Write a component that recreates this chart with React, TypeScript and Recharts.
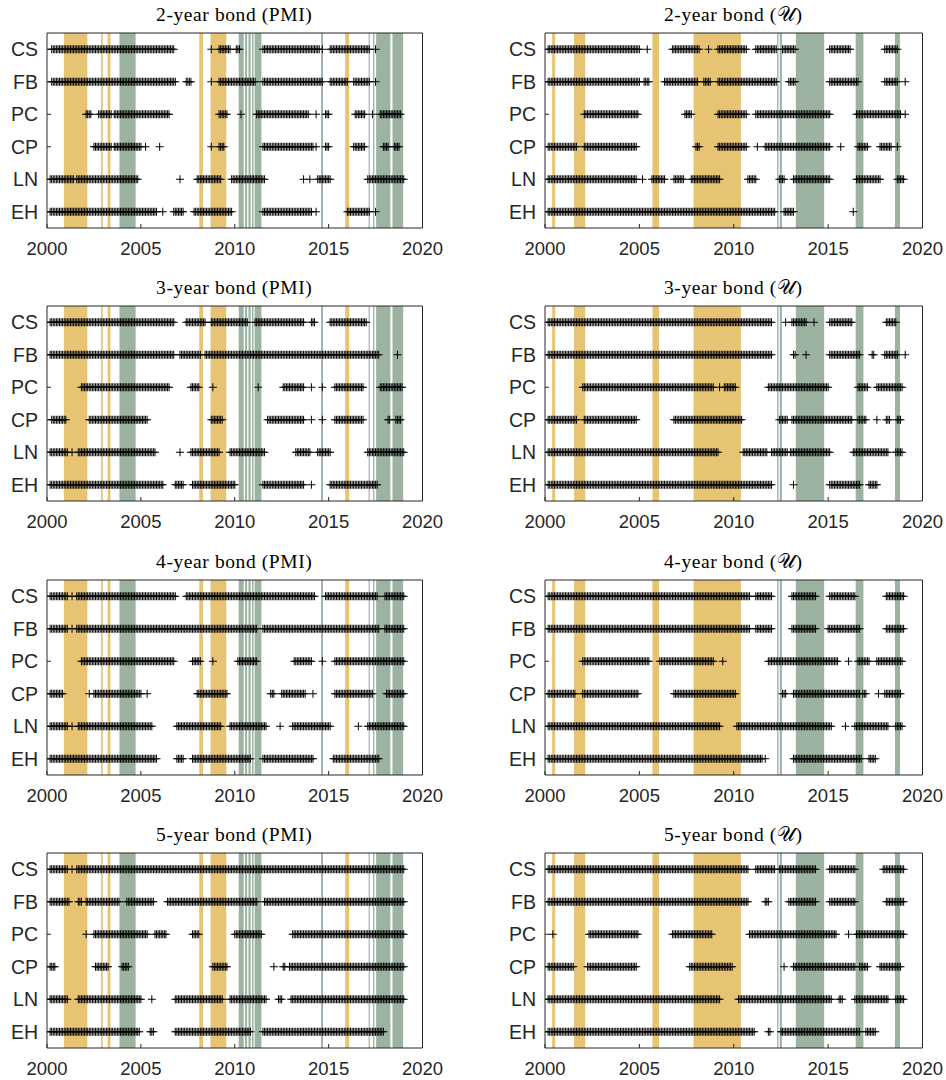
import React from 'react';
import { ScatterChart, Scatter, XAxis, YAxis, ReferenceArea } from 'recharts';

// row labels, top to bottom
const models = ['CS', 'FB', 'PC', 'CP', 'LN', 'EH'];
const xTicks = [2000, 2005, 2010, 2015, 2020];

// shaded periods: [from, to, kind]  (y = yellow, g = green)
const pmiBands = [
  [2000.9, 2002.15, 'y'], [2002.88, 2002.97, 'y'], [2003.23, 2003.38, 'y'], [2003.86, 2004.72, 'g'],
  [2008.11, 2008.31, 'y'], [2008.71, 2009.55, 'y'],
  [2010.21, 2010.48, 'g'], [2010.55, 2010.66, 'g'], [2010.73, 2010.85, 'g'], [2010.92, 2011.0, 'g'], [2011.06, 2011.42, 'g'],
  [2014.6, 2014.7, 'g'], [2015.88, 2016.1, 'y'],
  [2017.13, 2017.19, 'g'], [2017.37, 2017.44, 'g'], [2017.53, 2018.29, 'g'], [2018.4, 2018.97, 'g'],
];
const uBands = [
  [2000.38, 2000.54, 'y'], [2001.54, 2002.13, 'y'], [2005.69, 2006.04, 'y'], [2007.87, 2010.38, 'y'],
  [2012.3, 2012.37, 'g'], [2012.44, 2012.55, 'g'], [2013.29, 2014.79, 'g'], [2016.46, 2016.87, 'g'], [2018.54, 2018.81, 'g'],
];

// months where a model is selected, as runs [first, last] (decimal years), rows CS..EH
const bond2Pmi = [
  [[2000.25, 2006.75], [2008.75, 2008.75], [2009.17, 2009.75], [2010.08, 2010.25], [2011.5, 2014.5], [2014.67, 2014.67], [2015.08, 2017.17], [2017.5, 2017.5]],
  [[2000.25, 2006.83], [2007.42, 2007.67], [2008.75, 2008.75], [2009.17, 2011.08], [2011.5, 2014.67], [2015.08, 2016.0], [2016.33, 2017.17], [2017.5, 2017.5]],
  [[2002.08, 2002.33], [2002.75, 2003.42], [2003.58, 2006.5], [2009.17, 2009.58], [2010.33, 2010.33], [2011.17, 2013.92], [2014.33, 2014.33], [2014.83, 2015.0], [2016.42, 2016.92], [2017.33, 2017.33], [2017.75, 2018.83]],
  [[2002.5, 2003.42], [2003.58, 2005.0], [2005.25, 2005.25], [2006.0, 2006.0], [2008.75, 2008.75], [2009.17, 2009.42], [2011.5, 2014.17], [2014.33, 2014.33], [2014.83, 2015.0], [2016.33, 2016.92], [2017.92, 2018.17], [2018.5, 2018.75]],
  [[2000.17, 2001.42], [2001.58, 2004.83], [2007.08, 2007.08], [2008.0, 2009.25], [2009.83, 2011.58], [2013.67, 2013.67], [2014.0, 2014.0], [2014.42, 2015.08], [2017.08, 2019.0]],
  [[2000.17, 2005.83], [2006.17, 2006.17], [2006.75, 2007.25], [2007.83, 2009.83], [2011.5, 2014.08], [2014.33, 2014.33], [2016.0, 2017.17], [2017.5, 2017.5]],
];
const bond2U = [
  [[2000.17, 2005.0], [2005.42, 2005.42], [2006.75, 2008.17], [2008.67, 2008.67], [2009.17, 2010.67], [2011.17, 2012.25], [2012.58, 2013.25], [2015.08, 2016.17], [2018.0, 2018.67]],
  [[2000.17, 2005.0], [2005.25, 2005.5], [2006.33, 2008.08], [2008.42, 2008.75], [2009.17, 2012.25], [2012.92, 2013.25], [2015.08, 2016.58], [2018.0, 2018.67], [2019.08, 2019.08]],
  [[2002.08, 2004.92], [2007.42, 2007.75], [2009.17, 2010.67], [2011.17, 2015.08], [2016.5, 2018.83], [2019.08, 2019.08]],
  [[2000.17, 2001.67], [2002.08, 2004.83], [2008.0, 2008.17], [2009.17, 2010.67], [2011.25, 2011.25], [2011.67, 2015.08], [2015.67, 2015.67], [2016.58, 2017.08], [2017.75, 2018.33], [2018.67, 2018.67]],
  [[2000.17, 2004.83], [2005.17, 2005.17], [2005.67, 2006.33], [2006.83, 2007.33], [2007.75, 2009.25], [2010.75, 2011.17], [2012.42, 2012.67], [2013.17, 2015.08], [2016.5, 2017.75], [2018.67, 2019.0]],
  [[2000.17, 2012.17], [2012.67, 2013.17], [2016.33, 2016.33]],
];
const bond3Pmi = [
  [[2000.17, 2006.75], [2007.42, 2008.42], [2008.75, 2010.67], [2011.08, 2013.67], [2014.08, 2014.25], [2015.08, 2017.0]],
  [[2000.17, 2006.75], [2007.08, 2008.17], [2008.42, 2014.75], [2014.83, 2017.67], [2018.67, 2018.67]],
  [[2001.83, 2006.5], [2007.67, 2008.08], [2008.83, 2008.83], [2011.25, 2011.25], [2012.58, 2013.67], [2014.08, 2014.08], [2014.67, 2014.67], [2015.33, 2016.83], [2017.75, 2018.92]],
  [[2000.25, 2001.0], [2002.25, 2005.33], [2008.75, 2009.33], [2011.75, 2013.67], [2014.08, 2014.08], [2014.67, 2014.67], [2015.33, 2016.83], [2018.17, 2018.25], [2018.58, 2018.83]],
  [[2000.17, 2001.08], [2001.33, 2001.33], [2001.67, 2005.75], [2007.08, 2007.08], [2007.67, 2009.17], [2009.75, 2011.58], [2013.25, 2014.0], [2014.42, 2015.08], [2017.08, 2019.0]],
  [[2000.17, 2006.17], [2006.83, 2007.25], [2007.75, 2010.0], [2011.5, 2013.67], [2014.08, 2014.08], [2015.08, 2017.58]],
];
const bond3U = [
  [[2000.17, 2012.0], [2012.75, 2012.75], [2013.08, 2013.83], [2014.25, 2014.25], [2015.08, 2016.25], [2018.08, 2018.58]],
  [[2000.17, 2012.0], [2013.17, 2013.25], [2013.83, 2013.83], [2015.08, 2016.67], [2017.33, 2017.42], [2018.0, 2018.67], [2019.08, 2019.08]],
  [[2002.0, 2008.92], [2009.25, 2009.25], [2009.5, 2010.08], [2011.83, 2015.0], [2016.58, 2017.08], [2017.58, 2018.92]],
  [[2000.17, 2001.67], [2002.08, 2004.83], [2006.83, 2010.42], [2012.42, 2012.83], [2013.08, 2016.25], [2016.58, 2017.0], [2017.58, 2017.58], [2018.08, 2018.25], [2018.67, 2018.83]],
  [[2000.17, 2009.17], [2010.5, 2011.75], [2012.0, 2012.83], [2013.0, 2015.08], [2016.33, 2018.17], [2018.58, 2018.92]],
  [[2000.17, 2012.0], [2013.17, 2013.17], [2015.08, 2016.67], [2017.17, 2017.58]],
];
const bond4Pmi = [
  [[2000.17, 2001.08], [2001.33, 2001.33], [2001.58, 2006.83], [2007.42, 2014.25], [2014.83, 2017.58], [2018.0, 2019.0]],
  [[2000.17, 2001.08], [2001.33, 2001.33], [2001.58, 2011.17], [2011.5, 2014.75], [2014.83, 2017.67], [2018.0, 2019.0]],
  [[2001.83, 2006.75], [2007.75, 2008.17], [2008.83, 2008.83], [2010.17, 2011.17], [2013.17, 2014.08], [2014.67, 2014.67], [2015.33, 2019.0]],
  [[2000.17, 2000.83], [2002.25, 2002.25], [2002.5, 2005.0], [2005.33, 2005.33], [2008.0, 2009.58], [2011.92, 2012.08], [2012.5, 2013.75], [2014.17, 2014.17], [2015.33, 2017.33], [2018.08, 2019.0]],
  [[2000.17, 2001.08], [2001.33, 2001.33], [2001.67, 2005.58], [2006.92, 2009.25], [2009.75, 2011.67], [2012.42, 2012.42], [2013.08, 2015.08], [2016.58, 2016.58], [2017.08, 2019.0]],
  [[2000.17, 2005.83], [2006.92, 2007.25], [2007.75, 2010.83], [2011.5, 2014.17], [2015.25, 2017.67]],
];
const bond4U = [
  [[2000.17, 2010.83], [2011.17, 2012.0], [2013.08, 2014.33], [2015.08, 2016.42], [2018.08, 2019.0]],
  [[2000.17, 2010.83], [2011.17, 2012.0], [2013.08, 2014.33], [2015.0, 2016.67], [2018.08, 2019.0]],
  [[2002.0, 2005.5], [2006.08, 2008.92], [2009.42, 2009.42], [2011.83, 2015.5], [2016.08, 2016.08], [2016.58, 2017.17], [2017.58, 2018.92]],
  [[2000.17, 2001.58], [2002.0, 2004.92], [2006.83, 2010.08], [2012.58, 2012.75], [2013.17, 2016.67], [2016.83, 2017.0], [2017.67, 2017.67], [2018.0, 2018.83]],
  [[2000.17, 2009.25], [2010.17, 2015.17], [2015.92, 2015.92], [2016.42, 2018.17], [2018.58, 2018.92]],
  [[2000.17, 2011.5], [2011.67, 2011.67], [2013.17, 2016.75], [2017.17, 2017.5]],
];
const bond5Pmi = [
  [[2000.17, 2001.08], [2001.33, 2001.33], [2001.58, 2019.0]],
  [[2000.17, 2001.17], [2001.67, 2001.83], [2002.08, 2003.83], [2004.25, 2005.67], [2006.42, 2011.17], [2011.58, 2019.0]],
  [[2002.08, 2002.08], [2002.5, 2005.33], [2005.75, 2006.33], [2007.75, 2008.08], [2010.0, 2011.42], [2013.08, 2019.0]],
  [[2000.17, 2000.42], [2002.58, 2003.25], [2004.0, 2004.33], [2008.83, 2009.58], [2012.08, 2012.08], [2012.58, 2012.67], [2012.92, 2019.0]],
  [[2000.17, 2001.08], [2001.67, 2005.0], [2005.58, 2005.58], [2006.83, 2009.33], [2009.75, 2011.67], [2012.33, 2012.5], [2013.0, 2019.0]],
  [[2000.17, 2004.92], [2005.5, 2005.67], [2006.83, 2010.83], [2011.5, 2017.92]],
];
const bond5U = [
  [[2000.17, 2010.75], [2011.17, 2012.17], [2012.42, 2014.33], [2015.08, 2016.42], [2017.92, 2019.0]],
  [[2000.17, 2010.75], [2011.67, 2011.83], [2012.92, 2014.33], [2015.08, 2016.42], [2018.08, 2019.0]],
  [[2000.42, 2000.42], [2002.33, 2004.92], [2006.75, 2008.83], [2010.83, 2015.42], [2016.08, 2016.08], [2016.5, 2019.0]],
  [[2000.17, 2001.5], [2002.25, 2004.83], [2007.67, 2009.92], [2012.67, 2012.67], [2013.17, 2016.42], [2016.67, 2017.08], [2017.75, 2018.83]],
  [[2000.17, 2009.25], [2010.25, 2015.17], [2015.58, 2015.75], [2016.42, 2018.17], [2018.58, 2019.0]],
  [[2000.17, 2011.08], [2011.83, 2011.92], [2012.5, 2016.67], [2017.0, 2017.5]],
];

const panels = [
  { title: '2-year bond (PMI)', rows: bond2Pmi, bands: pmiBands, col: 0, row: 0 },
  { title: '2-year bond (𝒰)', rows: bond2U, bands: uBands, col: 1, row: 0 },
  { title: '3-year bond (PMI)', rows: bond3Pmi, bands: pmiBands, col: 0, row: 1 },
  { title: '3-year bond (𝒰)', rows: bond3U, bands: uBands, col: 1, row: 1 },
  { title: '4-year bond (PMI)', rows: bond4Pmi, bands: pmiBands, col: 0, row: 2 },
  { title: '4-year bond (𝒰)', rows: bond4U, bands: uBands, col: 1, row: 2 },
  { title: '5-year bond (PMI)', rows: bond5Pmi, bands: pmiBands, col: 0, row: 3 },
  { title: '5-year bond (𝒰)', rows: bond5U, bands: uBands, col: 1, row: 3 },
];

const YELLOW = '#e6c474';
const GREEN = '#9bb3a0';
const AX = '#262626';

const plotLefts = [46.5, 544.5];
const plotWidths = [375.5, 377.5];
const plotTops = [33, 306, 580, 853];
const PLOT_H = 195;
const ML = 46; // y axis band
const MT = 40;
const MB = 32;
const MR = 24;

// one marker per selected month
const toPoints = (rows: number[][][]) => {
  const pts: { x: number; y: number }[] = [];
  rows.forEach((runs, i) => {
    runs.forEach(([a, b]) => {
      const m0 = Math.round((a - 2000) * 12);
      const m1 = Math.round((b - 2000) * 12);
      for (let m = m0; m <= m1; m++) pts.push({ x: 2000 + m / 12, y: 6 - i });
    });
  });
  return pts;
};

const Plus = (props: any) => {
  const { cx, cy } = props;
  if (cx == null || cy == null) return null;
  const h = 4;
  return (
    <path
      d={`M${cx - h},${cy}H${cx + h}M${cx},${cy - h}V${cy + h}`}
      stroke="#000"
      strokeWidth={1}
      fill="none"
    />
  );
};

const Panel = ({ p }: { p: any }) => {
  const left = plotLefts[p.col];
  const w = plotWidths[p.col];
  const top = plotTops[p.row];
  const data = toPoints(p.rows);
  const tickFont = { fill: AX, fontSize: 18.5, fontFamily: 'Liberation Sans, Arial, sans-serif' };
  return (
    <>
      <div
        style={{
          position: 'absolute',
          left,
          top: top - 28.5,
          width: w,
          textAlign: 'center',
          fontFamily: 'Liberation Serif, Times New Roman, serif',
          fontSize: 19.5,
          lineHeight: '20px',
          letterSpacing: 0.6,
          color: '#000',
          whiteSpace: 'nowrap',
        }}
      >
        {p.title}
      </div>
      <div style={{ position: 'absolute', left: left - ML, top: top - MT }}>
        <ScatterChart
          width={ML + w + MR + 1}
          height={MT + PLOT_H + MB}
          margin={{ top: MT - 1, right: MR, bottom: 0, left: 0 }}
        >
          <XAxis
            type="number"
            dataKey="x"
            domain={[2000, 2020]}
            ticks={xTicks}
            allowDataOverflow
            height={MB}
            stroke={AX}
            tickSize={-4}
            tickMargin={18}
            tick={tickFont}
            interval={0}
          />
          <XAxis
            xAxisId="top"
            orientation="top"
            type="number"
            domain={[2000, 2020]}
            ticks={xTicks}
            allowDataOverflow
            height={1}
            stroke={AX}
            tickSize={-4}
            tick={false}
            interval={0}
          />
          <YAxis
            type="number"
            dataKey="y"
            domain={[0.5, 6.5]}
            ticks={[1, 2, 3, 4, 5, 6]}
            allowDataOverflow
            width={ML}
            stroke={AX}
            tickSize={-4}
            tickMargin={13}
            interval={0}
            tick={{ ...tickFont, fontSize: 19.5 }}
            tickFormatter={(v: number) => models[6 - v]}
          />
          <YAxis
            yAxisId="right"
            orientation="right"
            type="number"
            domain={[0.5, 6.5]}
            ticks={[1, 2, 3, 4, 5, 6]}
            allowDataOverflow
            width={1}
            stroke={AX}
            tickSize={-4}
            tick={false}
            interval={0}
          />
          {p.bands.map((b: any[], i: number) => (
            <ReferenceArea
              key={i}
              x1={b[0]}
              x2={b[1]}
              y1={0.5}
              y2={6.5}
              fill={b[2] === 'y' ? YELLOW : GREEN}
              fillOpacity={1}
              stroke="none"
            />
          ))}
          <Scatter data={data} shape={Plus} isAnimationActive={false} />
        </ScatterChart>
      </div>
    </>
  );
};

export default function App() {
  return (
    <div style={{ position: 'absolute', left: 0, top: 0, width: 946, height: 1080, background: '#fff' }}>
      {panels.map((p, i) => (
        <Panel key={i} p={p} />
      ))}
    </div>
  );
}
